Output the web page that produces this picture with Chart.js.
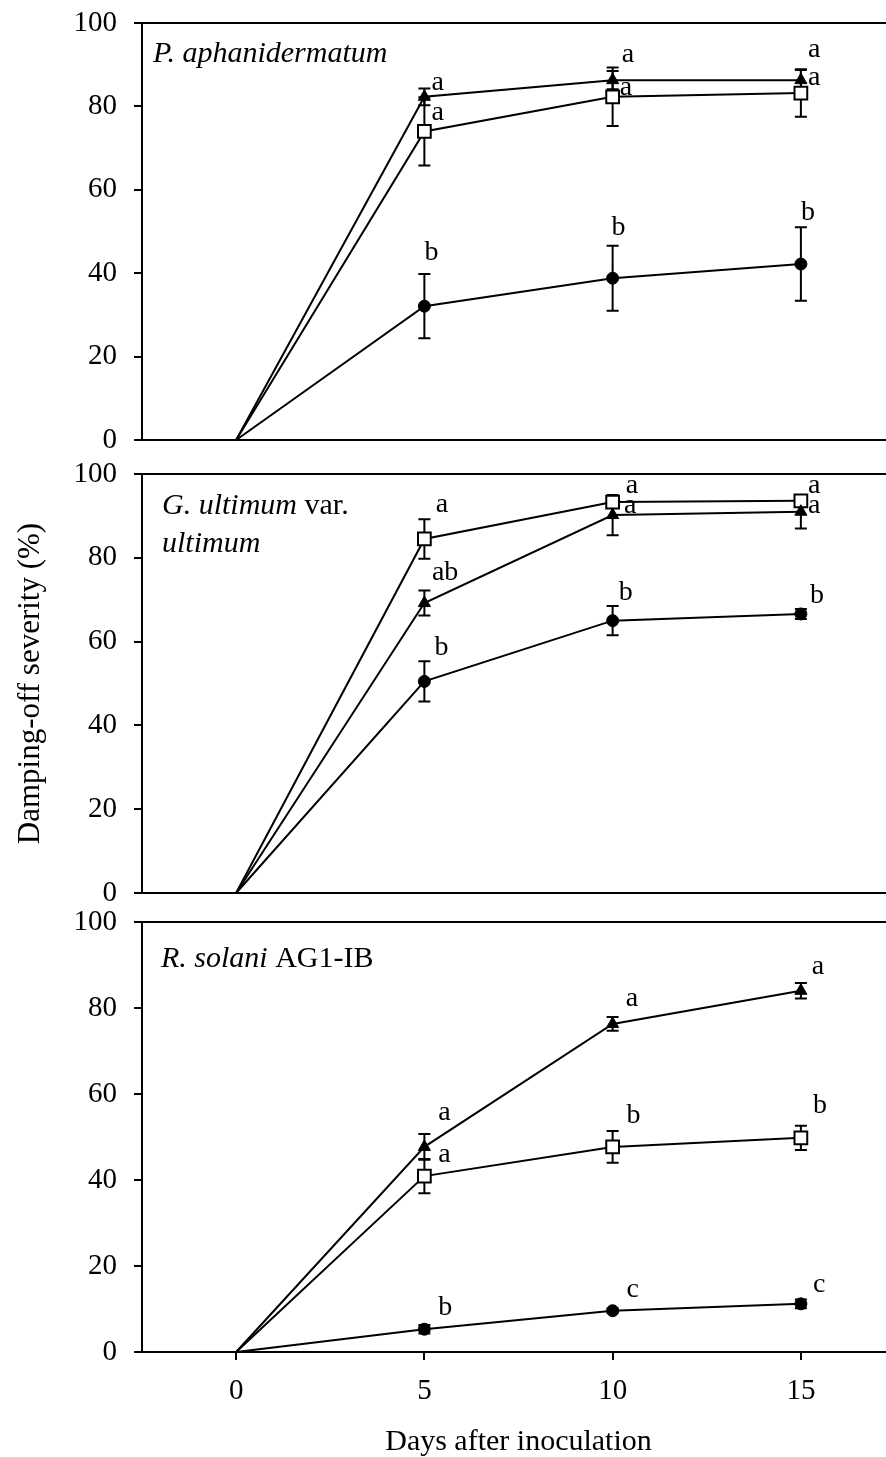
<!DOCTYPE html>
<html>
<head>
<meta charset="utf-8">
<script src="https://cdn.jsdelivr.net/npm/chart.js@4.4.1/dist/chart.umd.min.js"></script>
<style>
  html, body { margin: 0; padding: 0; background: #fff; overflow: hidden; width: 886px; height: 1457px; }
  .wrap { position: absolute; left: 0; width: 895px; }
  #w1 { top: 0; height: 462px; }
  #w2 { top: 448px; height: 464px; }
  #w3 { top: 898px; height: 562px; }
</style>
</head>
<body>
<div class="wrap" id="w1"><canvas id="c1"></canvas></div>
<div class="wrap" id="w2"><canvas id="c2"></canvas></div>
<div class="wrap" id="w3"><canvas id="c3"></canvas></div>
<script>
// days after inoculation
const days = [0, 5, 10, 15];
const xTicks = [0, 5, 10, 15];
const yTicks = [0, 20, 40, 60, 80, 100];

// P. aphanidermatum
const p1Tri = [0, 82.3, 86.3, 86.3];
const p1TriErr = [0, 2.0, 2.2, 2.4];
const p1Sq = [0, 74.0, 82.3, 83.2];
const p1SqErr = [0, 8.2, 7.0, 5.7];
const p1Circ = [0, 32.1, 38.8, 42.2];
const p1CircErr = [0, 7.7, 7.8, 8.8];
const p1Letters = [['a', 5.19, 83.9], ['a', 5.19, 76.7], ['a', 10.24, 90.6], ['a', 10.19, 82.7],
                   ['a', 15.19, 91.8], ['a', 15.19, 85.1], ['b', 5.0, 43.2], ['b', 9.97, 49.2], ['b', 15.0, 52.8]];

// G. ultimum var. ultimum
const p2Tri = [0, 69.2, 90.2, 91.0];
const p2TriErr = [0, 3.0, 4.8, 4.0];
const p2Sq = [0, 84.5, 93.3, 93.6];
const p2SqErr = [0, 4.7, 1.0, 1.0];
const p2Circ = [0, 50.5, 65.0, 66.6];
const p2CircErr = [0, 4.8, 3.5, 1.2];
const p2Letters = [['a', 5.3, 90.9], ['ab', 5.2, 74.7], ['b', 5.27, 56.8], ['a', 10.35, 95.5], ['a', 10.3, 90.7],
                   ['a', 15.19, 95.5], ['a', 15.19, 90.7], ['b', 10.16, 69.9], ['b', 15.24, 69.2]];

// R. solani AG1-IB
const p3Tri = [0, 47.7, 76.3, 84.0];
const p3TriErr = [0, 3.0, 1.6, 1.8];
const p3Sq = [0, 40.9, 47.7, 49.8];
const p3SqErr = [0, 4.0, 3.7, 2.8];
const p3Circ = [0, 5.3, 9.6, 11.2];
const p3CircErr = [0, 1.0, 0.5, 1.0];
const p3Letters = [['a', 5.37, 54.0], ['a', 5.37, 44.2], ['b', 5.37, 8.6], ['a', 10.35, 80.5], ['b', 10.37, 53.3],
                   ['c', 10.37, 12.8], ['a', 15.29, 87.9], ['b', 15.32, 55.6], ['c', 15.32, 14.0]];

const SERIF = '"Liberation Serif", "Times New Roman", serif';

const pts = vals => days.map((d, i) => ({ x: d, y: vals[i] }));
// no marker at day 0
const radii = r => days.map(d => (d === 0 ? 0 : r));

const errorBars = {
  id: 'errorBars',
  beforeDatasetsDraw(chart) {
    const ctx = chart.ctx, ys = chart.scales.y;
    ctx.save();
    ctx.strokeStyle = '#000';
    ctx.lineWidth = 2;
    chart.data.datasets.forEach((ds, i) => {
      chart.getDatasetMeta(i).data.forEach((p, j) => {
        const e = ds.err[j];
        if (!e) return;
        const t = ys.getPixelForValue(ds.data[j].y + e);
        const b = ys.getPixelForValue(ds.data[j].y - e);
        ctx.beginPath();
        ctx.moveTo(p.x, t); ctx.lineTo(p.x, b);
        ctx.moveTo(p.x - 6, t); ctx.lineTo(p.x + 6, t);
        ctx.moveTo(p.x - 6, b); ctx.lineTo(p.x + 6, b);
        ctx.stroke();
      });
    });
    ctx.restore();
  }
};

const panelText = {
  id: 'panelText',
  afterDraw(chart, args, opts) {
    const ctx = chart.ctx, a = chart.chartArea;
    const xs = chart.scales.x, ys = chart.scales.y;
    ctx.save();
    // top frame line
    ctx.strokeStyle = '#000';
    ctx.lineWidth = 2;
    ctx.beginPath();
    ctx.moveTo(a.left - 1, a.top);
    ctx.lineTo(a.right, a.top);
    ctx.stroke();
    // significance letters
    ctx.fillStyle = '#000';
    ctx.textAlign = 'left';
    ctx.textBaseline = 'alphabetic';
    ctx.font = '28px ' + SERIF;
    opts.letters.forEach(([t, x, y]) => {
      ctx.fillText(t, xs.getPixelForValue(x), ys.getPixelForValue(y));
    });
    // panel title (mixed italic / roman)
    opts.title.forEach((line, k) => {
      let x = a.left + opts.dx;
      const y = a.top + opts.dy + k * 38;
      line.forEach(([t, it]) => {
        ctx.font = (it ? 'italic ' : '') + '30px ' + SERIF;
        ctx.fillText(t, x, y);
        x += ctx.measureText(t).width;
      });
    });
    ctx.restore();
  }
};

function makePanel(id, tri, triErr, sq, sqErr, circ, circErr, letters, title, o) {
  new Chart(document.getElementById(id), {
    type: 'scatter',
    data: {
      datasets: [
        { data: pts(tri), err: triErr, showLine: true, borderColor: '#000', borderWidth: 2, clip: false,
          pointStyle: 'triangle', pointRadius: radii(7), pointBackgroundColor: '#000', pointBorderColor: '#000', pointBorderWidth: 1 },
        { data: pts(sq), err: sqErr, showLine: true, borderColor: '#000', borderWidth: 2, clip: false,
          pointStyle: 'rect', pointRadius: radii(9), pointBackgroundColor: '#fff', pointBorderColor: '#000', pointBorderWidth: 2 },
        { data: pts(circ), err: circErr, showLine: true, borderColor: '#000', borderWidth: 2, clip: false,
          pointStyle: 'circle', pointRadius: radii(6), pointBackgroundColor: '#000', pointBorderColor: '#000', pointBorderWidth: 1 }
      ]
    },
    options: {
      responsive: true,
      maintainAspectRatio: false,
      animation: false,
      layout: { autoPadding: false, padding: { top: o.padTop, bottom: o.padBottom, left: 0, right: 0 } },
      plugins: {
        legend: { display: false },
        tooltip: { enabled: false },
        panelText: { letters: letters, title: title, dx: o.dx, dy: o.dy }
      },
      scales: {
        x: {
          type: 'linear', min: -2.5, max: 17.5,
          afterBuildTicks: s => { s.ticks = xTicks.map(v => ({ value: v })); },
          afterFit: s => { s.height = o.xHeight; s.paddingLeft = 0; s.paddingRight = 0; },
          border: { display: true, color: '#000', width: 2 },
          grid: { display: true, drawOnChartArea: false, drawTicks: o.showX, tickLength: 8, color: '#000', lineWidth: 2 },
          ticks: { display: o.showX, padding: 14, color: '#000', font: { family: SERIF, size: 29 } },
          title: { display: o.showX, text: 'Days after inoculation', color: '#000',
                   font: { family: SERIF, size: 30 }, padding: { top: 0, bottom: 0 } }
        },
        y: {
          min: 0, max: 100,
          afterBuildTicks: s => { s.ticks = yTicks.map(v => ({ value: v })); },
          afterFit: s => { s.width = 142; s.paddingTop = 0; s.paddingBottom = 0; },
          border: { display: true, color: '#000', width: 2 },
          grid: { display: true, drawOnChartArea: false, drawTicks: true, tickLength: 8, color: '#000', lineWidth: 2 },
          ticks: { padding: 17, color: '#000', font: { family: SERIF, size: 29 } },
          title: { display: o.showY, text: 'Damping-off severity (%)', color: '#000',
                   font: { family: SERIF, size: 31 }, padding: { top: 12, bottom: 0 } }
        }
      }
    },
    plugins: [errorBars, panelText]
  });
}

makePanel('c1', p1Tri, p1TriErr, p1Sq, p1SqErr, p1Circ, p1CircErr, p1Letters,
  [[['P. aphanidermatum', true]]],
  { padTop: 23, padBottom: 22, xHeight: 0, showX: false, showY: false, dx: 11, dy: 39 });

makePanel('c2', p2Tri, p2TriErr, p2Sq, p2SqErr, p2Circ, p2CircErr, p2Letters,
  [[['G. ultimum', true], [' var.', false]], [['ultimum', true]]],
  { padTop: 26, padBottom: 19, xHeight: 0, showX: false, showY: true, dx: 20, dy: 40 });

makePanel('c3', p3Tri, p3TriErr, p3Sq, p3SqErr, p3Circ, p3CircErr, p3Letters,
  [[['R. solani', true], [' AG1-IB', false]]],
  { padTop: 24, padBottom: 0, xHeight: 108, showX: true, showY: false, dx: 19, dy: 45 });
</script>
</body>
</html>
